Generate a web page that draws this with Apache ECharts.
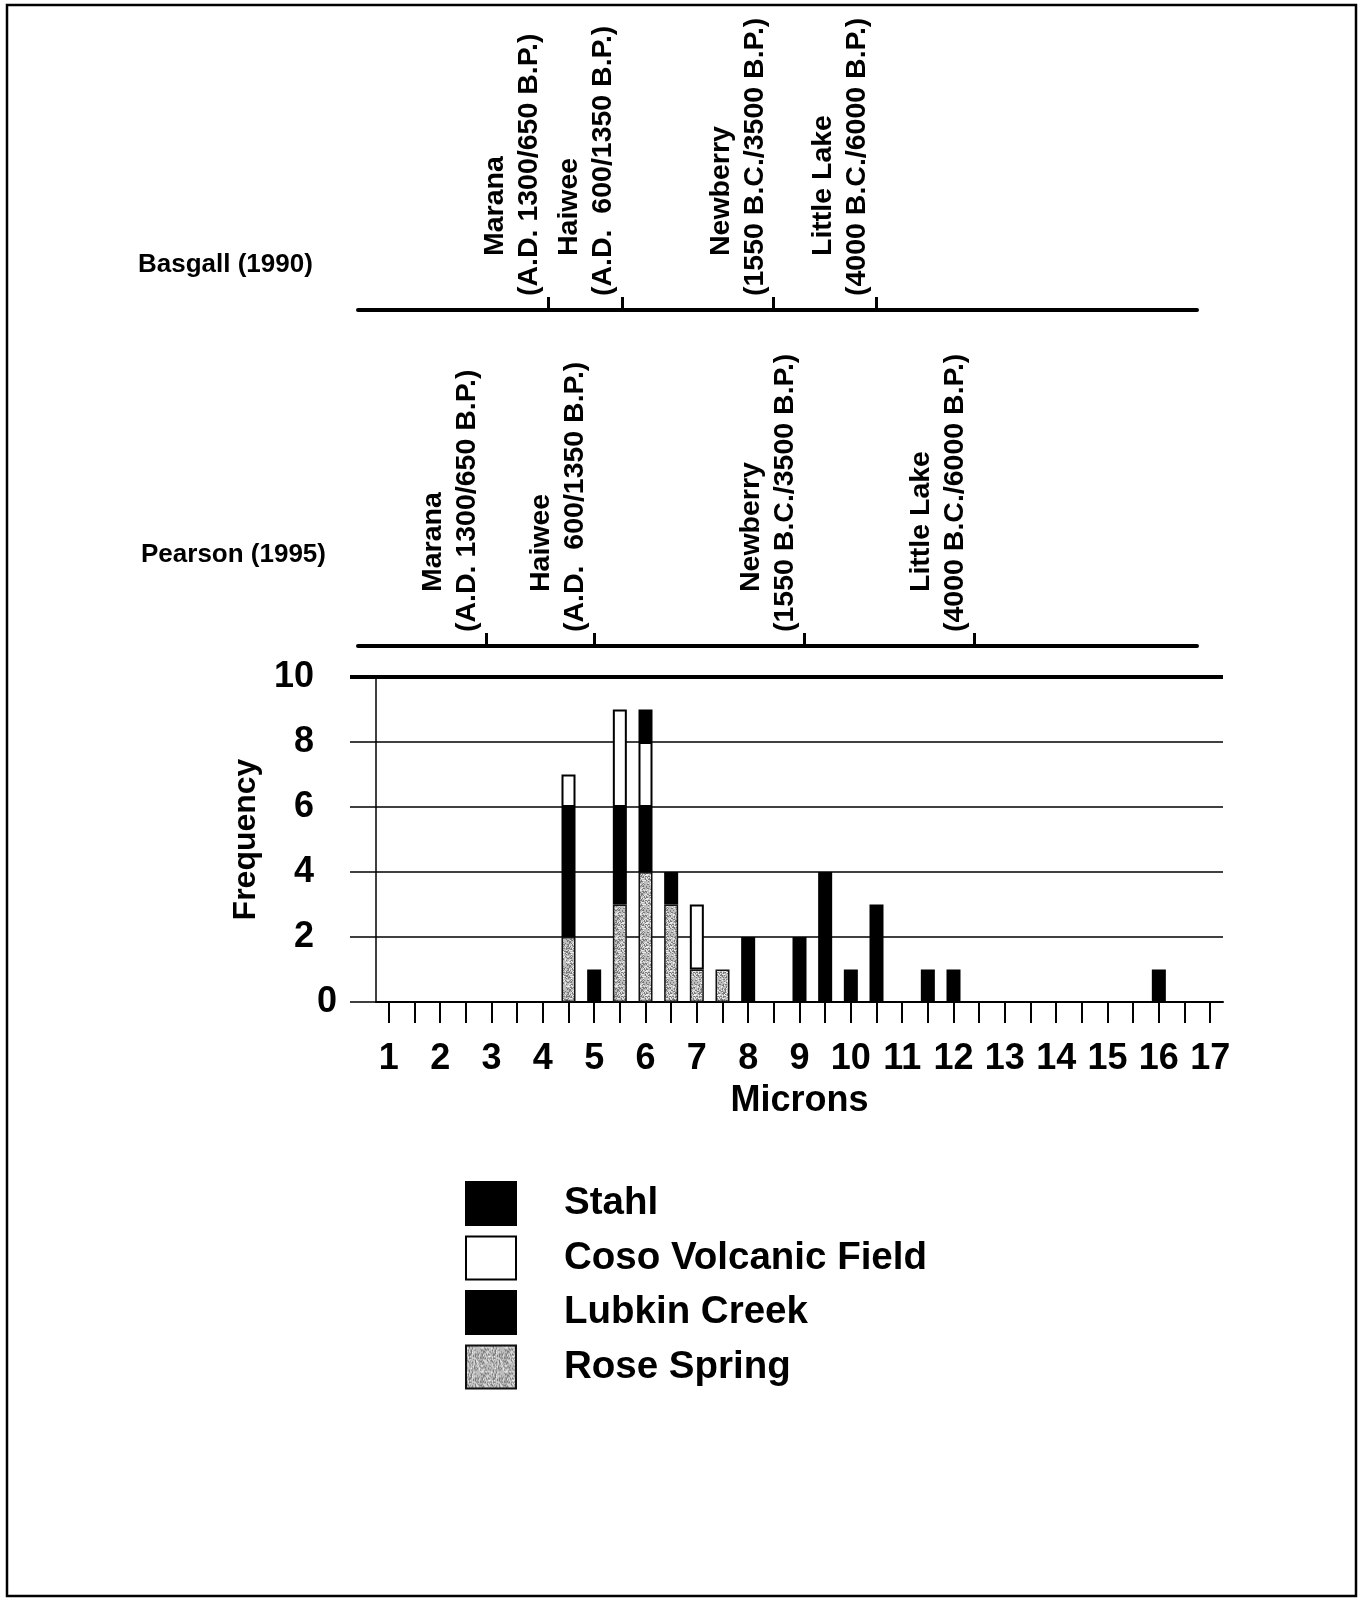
<!DOCTYPE html>
<html>
<head>
<meta charset="utf-8">
<style>
  html, body { margin: 0; padding: 0; background: #fff; }
  #chart { width: 1360px; height: 1599px; }
</style>
<script src="https://cdn.jsdelivr.net/npm/echarts@6/dist/echarts.min.js"></script>
</head>
<body>
<div id="chart"></div>
<script>
// ---------------- data ----------------
const microns = ['1','1.5','2','2.5','3','3.5','4','4.5','5','5.5','6','6.5','7','7.5','8','8.5',
                 '9','9.5','10','10.5','11','11.5','12','12.5','13','13.5','14','14.5','15','15.5','16','16.5','17'];
const roseSpring        = [0,0,0,0,0,0,0,2,0,3,4,3,1,1,0,0,0,0,0,0,0,0,0,0,0,0,0,0,0,0,0,0,0];
const lubkinCreek       = [0,0,0,0,0,0,0,4,1,3,2,1,0,0,0,0,0,0,0,0,0,0,0,0,0,0,0,0,0,0,0,0,0];
const cosoVolcanicField = [0,0,0,0,0,0,0,1,0,3,2,0,2,0,0,0,0,0,0,0,0,0,0,0,0,0,0,0,0,0,0,0,0];
const stahl             = [0,0,0,0,0,0,0,0,0,0,1,0,0,0,2,0,2,4,1,3,0,1,1,0,0,0,0,0,0,0,1,0,0];
const frequencyMax = 10;
const frequencyStep = 2;
const basgallBounds = [4.1, 5.55, 8.5, 10.5];
const pearsonBounds = [2.9, 5.0, 9.1, 12.4];
const periodNames = ['Marana', 'Haiwee', 'Newberry', 'Little Lake'];
const periodDates = ['(A.D. 1300/650 B.P.)', '(A.D.  600/1350 B.P.)', '(1550 B.C./3500 B.P.)', '(4000 B.C./6000 B.P.)'];
const seriesNames = ['Stahl', 'Coso Volcanic Field', 'Lubkin Creek', 'Rose Spring'];

// ---------------- styling helpers ----------------
const FONT = '"Liberation Sans", Arial, Helvetica, sans-serif';

function makeStipple() {
  const n = 24;
  const c = document.createElement('canvas');
  c.width = n; c.height = n;
  const ctx = c.getContext('2d');
  ctx.fillStyle = '#bdbdbd';
  ctx.fillRect(0, 0, n, n);
  for (let y = 0; y < n; y++) {
    for (let x = 0; x < n; x++) {
      let h = (x * 374761393 + y * 668265263) >>> 0;
      h = ((h ^ (h >>> 13)) * 1274126177) >>> 0;
      const r = (h >>> 8) % 100;
      if (r < 28) { ctx.fillStyle = '#7a7a7a'; ctx.fillRect(x, y, 1, 1); }
      else if (r > 80) { ctx.fillStyle = '#ebebeb'; ctx.fillRect(x, y, 1, 1); }
    }
  }
  return c;
}
const stipple = { image: makeStipple(), repeat: 'repeat' };

const nz = arr => arr.map(v => (v === 0 ? null : v));

function periodFormatter(bounds) {
  return function (value) {
    let best = 0, d = Infinity;
    bounds.forEach((b, i) => { const dd = Math.abs(b - value); if (dd < d) { d = dd; best = i; } });
    return '{a|' + periodNames[best] + '}\n{b|' + periodDates[best] + '}';
  };
}

function timelineAxis(gridIndex, bounds) {
  return {
    type: 'value', gridIndex: gridIndex, min: 0.4, max: 16.75,
    splitLine: { show: false },
    axisLine: { show: true, onZero: false, lineStyle: { color: '#000', width: 4 } },
    axisTick: { show: true, inside: true, length: 13, lineStyle: { color: '#000', width: 3 }, customValues: bounds },
    axisLabel: {
      show: true, inside: true, rotate: 90, margin: 14, align: 'left', verticalAlign: 'bottom',
      customValues: bounds, formatter: periodFormatter(bounds),
      color: '#000', fontFamily: FONT, fontSize: 28.5, fontWeight: 'bold', padding: [0, 0, 2, 0],
      rich: {
        a: { fontFamily: FONT, fontSize: 28.5, fontWeight: 'bold', color: '#000', lineHeight: 34, padding: [0, 0, 0, 40] },
        b: { fontFamily: FONT, fontSize: 28.5, fontWeight: 'bold', color: '#000', lineHeight: 34 }
      }
    }
  };
}

const barBase = { type: 'bar', stack: 'total', barWidth: 14, xAxisIndex: 0, yAxisIndex: 0 };

const chart = echarts.init(document.getElementById('chart'), null, { renderer: 'canvas' });
chart.setOption({
  animation: false,
  backgroundColor: '#fff',
  textStyle: { fontFamily: FONT, color: '#000' },
  title: [
    { text: 'Basgall (1990)', left: 138, top: 252, padding: 0,
      textStyle: { fontFamily: FONT, fontSize: 26, fontWeight: 'bold', color: '#000' } },
    { text: 'Pearson (1995)', left: 141, top: 542, padding: 0,
      textStyle: { fontFamily: FONT, fontSize: 26, fontWeight: 'bold', color: '#000' } }
  ],
  legend: {
    data: seriesNames,
    orient: 'vertical', left: 465, top: 1181, padding: 0,
    icon: 'rect', itemWidth: 50, itemHeight: 43, itemGap: 9.5,
    selectedMode: false,
    textStyle: { fontFamily: FONT, fontSize: 38.5, fontWeight: 'bold', color: '#000', padding: [0, 0, 0, 43] }
  },
  grid: [
    { left: 376, right: 137, top: 677, height: 325 },
    { left: 358, right: 163, top: 290, height: 20 },
    { left: 358, right: 163, top: 626, height: 20 }
  ],
  xAxis: [
    {
      type: 'category', gridIndex: 0, data: microns,
      axisLine: { show: true, onZero: false, lineStyle: { color: '#000', width: 2 } },
      axisTick: { show: true, alignWithLabel: true, interval: 0, length: 21, lineStyle: { color: '#000', width: 2 } },
      axisLabel: {
        interval: 0, margin: 39, color: '#000', fontFamily: FONT, fontSize: 36, fontWeight: 'bold',
        formatter: v => (Number(v) % 1 === 0 ? v : '')
      },
      splitLine: { show: false },
      name: 'Microns', nameLocation: 'middle', nameGap: 81,
      nameTextStyle: { fontFamily: FONT, fontSize: 36, fontWeight: 'bold', color: '#000' }
    },
    timelineAxis(1, basgallBounds),
    timelineAxis(2, pearsonBounds)
  ],
  yAxis: [
    {
      type: 'value', gridIndex: 0, min: 0, max: frequencyMax, interval: frequencyStep,
      axisLine: { show: true, lineStyle: { color: '#000', width: 1.5 } },
      axisTick: { show: true, length: 26, lineStyle: { color: '#000', width: 1.5 } },
      splitLine: { show: true, lineStyle: { color: '#000', width: 1.5 } },
      axisLabel: {
        margin: 39, align: 'right', color: '#000', fontFamily: FONT, fontSize: 36, fontWeight: 'bold',
        formatter: v => (v === 0 ? '{z|0}' : '{n|' + v + '}'),
        rich: {
          z: { fontFamily: FONT, fontSize: 36, fontWeight: 'bold', color: '#000' },
          n: { fontFamily: FONT, fontSize: 36, fontWeight: 'bold', color: '#000', padding: [0, 23, 0, 0] }
        }
      },
      name: 'Frequency', nameLocation: 'middle', nameGap: 114,
      nameTextStyle: { fontFamily: FONT, fontSize: 32, fontWeight: 'bold', color: '#000' }
    },
    { type: 'value', gridIndex: 1, show: false },
    { type: 'value', gridIndex: 2, show: false }
  ],
  series: [
    Object.assign({}, barBase, { name: 'Rose Spring', data: nz(roseSpring),
      itemStyle: { color: stipple, borderColor: '#111', borderWidth: 1.5 } }),
    Object.assign({}, barBase, { name: 'Lubkin Creek', data: nz(lubkinCreek),
      itemStyle: { color: '#000', borderColor: '#000', borderWidth: 1.5 } }),
    Object.assign({}, barBase, { name: 'Coso Volcanic Field', data: nz(cosoVolcanicField),
      itemStyle: { color: '#fff', borderColor: '#000', borderWidth: 2 } }),
    Object.assign({}, barBase, { name: 'Stahl', data: nz(stahl),
      itemStyle: { color: '#000', borderColor: '#000', borderWidth: 1.5 } }),
    {
      type: 'custom', name: 'topRule', xAxisIndex: 0, yAxisIndex: 0, silent: true, z: 5,
      data: [[0, frequencyMax]],
      renderItem: function (params, api) {
        const p = api.coord([0, api.value(1)]);
        const cs = params.coordSys;
        return { type: 'line', shape: { x1: cs.x - 26, y1: p[1], x2: cs.x + cs.width, y2: p[1] },
                 style: { stroke: '#000', lineWidth: 4 } };
      }
    }
  ],
  graphic: [
    { type: 'rect', shape: { x: 7, y: 5, width: 1349, height: 1591 },
      style: { fill: 'none', stroke: '#000', lineWidth: 2.5 }, silent: true }
  ]
});
</script>
</body>
</html>
